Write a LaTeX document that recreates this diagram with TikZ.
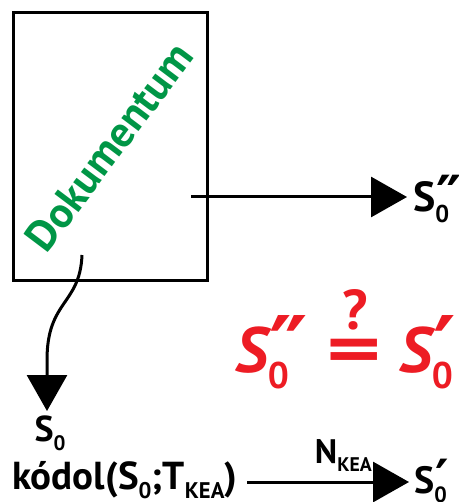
\documentclass[tikz,border=0pt]{standalone}
\usepackage{fontspec}
\setmainfont{PT Sans}
\newfontfamily\primefont{DejaVu Sans}
\definecolor{docgreen}{RGB}{0, 150, 70}
\definecolor{checkred}{RGB}{237, 28, 36}
\usetikzlibrary{arrows.meta, positioning}
\newcommand\lowsub[1]{\raisebox{-0.25em}{\scalebox{0.58}{\upshape #1}}}
\newcommand\subprime[2]{\rlap{\kern0.02em\raisebox{-0.1em}{\scalebox{1.35}{\primefont\upshape #2}}}\lowsub{#1}}

\begin{document}
\begin{tikzpicture}[x=1pt, y=-1pt,
    bigarrow/.style={-{Triangle[length=36pt, width=40pt]}, line width=3pt},
    lbl/.style={font=\fontsize{36}{36}\selectfont\bfseries, inner sep=0pt},
    redlbl/.style={font=\fontsize{64}{64}\selectfont\bfseries\itshape, text=checkred, inner sep=0pt}]
\useasboundingbox (0,0) rectangle (458,502);

% Document
\node[draw, line width=3pt, minimum width=194pt, minimum height=267pt, inner sep=0pt] (doc) at (110,146.5) {};
\node[rotate=53, text=docgreen, font=\fontsize{43}{43}\selectfont\bfseries] (doctitle) at (109,147) {Dokumentum};

% Top output
\coordinate (hstart) at (191,197);
\node[lbl, font=\fontsize{42}{42}\selectfont\bfseries, anchor=base west] (sdd) at (413,212) {S\subprime{0}{″}};
\draw[bigarrow, shorten >=6pt] (hstart) -- (hstart -| sdd.west);

% Down to S0
\coordinate (cstart) at (82,255);
\node[lbl, anchor=north] (szero) at (50,416) {S\lowsub{0}};
\draw[bigarrow, shorten >=5pt] (cstart) .. controls (80,305) and (47,300) .. (47,360) -- (47,416);

% Encoding line
\node[lbl, font=\fontsize{39}{39}\selectfont\bfseries, anchor=base west] (kodol) at (12,489) {kódol(S\lowsub{0};T\lowsub{KEA})};
\node[lbl, font=\fontsize{38}{38}\selectfont\bfseries, anchor=base west] (sp) at (414,493) {S\subprime{0}{′}};
\draw[bigarrow, shorten <=10pt, shorten >=5pt] ([yshift=7pt]kodol.base east) -- ([yshift=7pt]kodol.base east -| sp.west)
    node[pos=0.6, above=9pt, lbl, font=\fontsize{34}{34}\selectfont\bfseries] (nkea) {N\lowsub{KEA}};

% Comparison
\node[redlbl, anchor=base west] (lhs) at (235,372) {S\subprime{0}{″}};
\node[text=checkred, font=\fontsize{70}{70}\selectfont\bfseries, inner sep=0pt] (eqsign) at (354,356) {\scalebox{1.5}[1]{=}};
\node[text=checkred, font=\fontsize{56}{56}\selectfont\bfseries, inner sep=0pt] (qmark) at (355,310) {?};
\node[redlbl, anchor=base west] (rhs) at (399,372) {S\subprime{0}{′}};
\end{tikzpicture}
\end{document}
